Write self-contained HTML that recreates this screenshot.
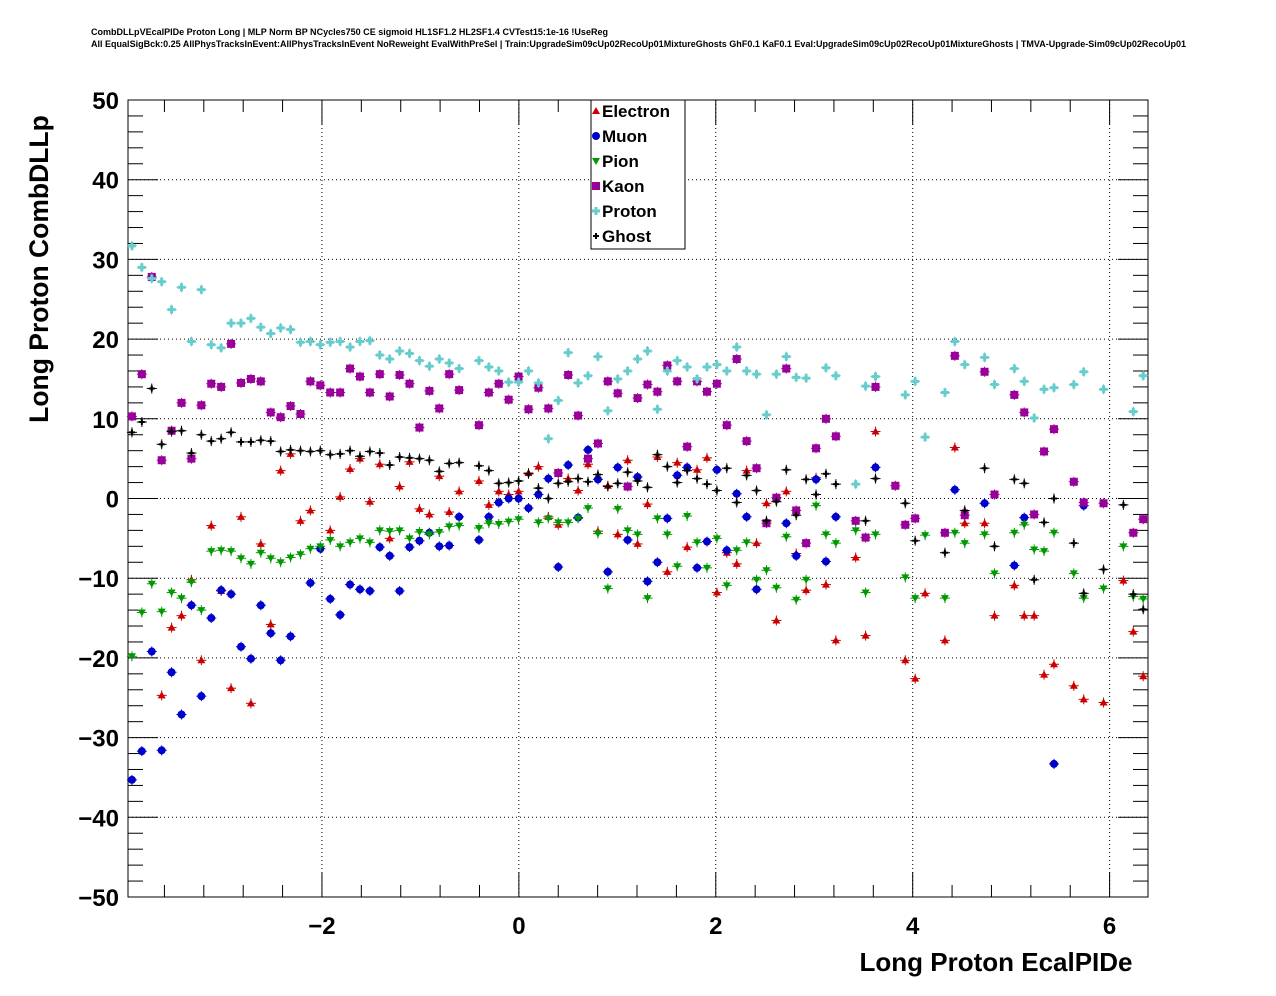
<!DOCTYPE html>
<html><head><meta charset="utf-8">
<style>
body{margin:0;background:#fff;}
svg{display:block;font-family:"Liberation Sans",sans-serif;}
</style></head>
<body>
<svg id="c" width="1276" height="996" viewBox="0 0 1276 996">
<rect width="1276" height="996" fill="#fff"/>
<text x="91" y="35" font-size="8.9" font-weight="bold" textLength="517" lengthAdjust="spacingAndGlyphs">CombDLLpVEcalPIDe Proton Long | MLP Norm BP NCycles750 CE sigmoid HL1SF1.2 HL2SF1.4 CVTest15:1e-16 !UseReg</text>
<text x="91" y="47" font-size="8.9" font-weight="bold" textLength="1095" lengthAdjust="spacingAndGlyphs">All EqualSigBck:0.25 AllPhysTracksInEvent:AllPhysTracksInEvent NoReweight EvalWithPreSel | Train:UpgradeSim09cUp02RecoUp01MixtureGhosts GhF0.1 KaF0.1 Eval:UpgradeSim09cUp02RecoUp01MixtureGhosts | TMVA-Upgrade-Sim09cUp02RecoUp01</text>
<g id="grid"></g><g id="axes"></g><g id="marks"></g>
<text x="996" y="971" font-size="26" font-weight="bold" text-anchor="middle">Long Proton EcalPIDe</text>
<text transform="translate(48,269) rotate(-90)" font-size="26.5" font-weight="bold" text-anchor="middle">Long Proton CombDLLp</text>
<g>
<rect x="591" y="100" width="94" height="149" fill="#fff" stroke="#000" stroke-width="1"/>
<g id="leg"></g>
</g>
</svg>
<script>
const xTicks=[-2,0,2,4,6];
const yTicks=[-50,-40,-30,-20,-10,0,10,20,30,40,50];
const seriesNames=["Electron","Muon","Pion","Kaon","Proton","Ghost"];
const eBins=[3,4,5,6,7,8,9,10,11,12,13,14,15,16,17,18,20,21,22,23,24,25,26,27,28,29,30,31,32,33,35,36,37,38,39,40,41,42,43,44,45,46,47,48,49,50,51,52,53,54,55,56,57,58,59,60,61,62,63,64,65,66,67,68,69,70,71,73,74,75,78,79,80,82,83,84,86,87,89,90,91,92,93,95,96,98,100,101,102];
const eVals=[-24.7,-16.2,-14.7,-10.2,-20.3,-3.4,-11.6,-23.8,-2.3,-25.7,-5.7,-15.8,3.5,5.6,-2.8,-1.5,-4,0.2,3.7,5,-0.4,4.3,-5,1.5,4.6,-1.3,-2,2.8,-1.7,0.9,2.2,-0.8,0.9,0.5,0.9,3.2,4,-2.3,-3.3,2.5,1,4.3,-4.1,1.6,-4.5,4.8,-5.7,-0.7,5.2,-9.2,4.5,-6.1,3.6,5.1,-11.8,-6.8,-8.2,3.5,-5.6,-0.6,-15.3,0.9,-6.9,-11.5,2.6,-10.8,-17.8,-7.4,-17.2,8.4,-20.3,-22.6,-11.9,-17.8,6.4,-3.1,-3.1,-14.7,-10.9,-14.7,-14.7,-22.1,-20.8,-23.5,-25.2,-25.6,-10.3,-16.7,-22.3];
const mBins=[0,1,2,3,4,5,6,7,8,9,10,11,12,13,14,15,16,18,19,20,21,22,23,24,25,26,27,28,29,30,31,32,33,35,36,37,38,39,40,41,42,43,44,45,46,47,48,49,50,51,52,53,54,55,56,57,58,59,60,61,62,63,66,67,69,70,71,75,83,86,89,90,93,96];
const mVals=[-35.3,-31.7,-19.2,-31.6,-21.8,-27.1,-13.4,-24.8,-15,-11.5,-12,-18.6,-20.1,-13.4,-16.9,-20.3,-17.3,-10.6,-6.3,-12.6,-14.6,-10.8,-11.4,-11.6,-6.1,-7.2,-11.6,-6.1,-5.3,-4.3,-6,-5.9,-2.3,-5.2,-2.3,-0.5,0,0,-1.2,0.5,2.5,-8.6,4.2,-2.4,6.1,2.4,-9.2,3.9,-5.2,2.7,-10.4,-8,-2.5,2.9,3.9,-8.7,-5.4,3.6,-6.5,0.6,-2.3,-11.4,-3.1,-7.2,2.4,-7.9,-2.3,3.9,1.1,-0.6,-8.4,-2.4,-33.3,-0.9];
const pBins=[0,1,2,3,4,5,6,7,8,9,10,11,12,13,14,15,16,17,18,19,20,21,22,23,24,25,26,27,28,29,30,31,32,33,35,36,37,38,39,41,42,43,44,45,46,47,48,49,50,51,52,53,54,55,56,57,58,59,60,61,62,63,64,65,66,67,68,69,70,71,73,74,75,78,79,80,82,83,84,86,87,89,90,91,92,93,95,96,98,100,101,102];
const pVals=[-19.8,-14.3,-10.7,-14.2,-11.8,-12.5,-10.5,-14,-6.6,-6.5,-6.6,-7.5,-8.2,-6.8,-7.5,-8,-7.4,-7,-6.3,-6,-5.2,-6,-5.5,-5,-5.5,-4,-4.1,-4,-5,-4.2,-4.5,-4.2,-3.5,-3.4,-3.7,-3.1,-3.2,-2.9,-2.6,-3,-2.5,-3,-3,-2.5,-1.2,-4.4,-11.3,-1.3,-4,-4.5,-12.5,-2.5,-4.5,-8.5,-2.2,-5.5,-8.7,-5,-10.9,-6.5,-5.5,-10.2,-9,-11.2,-4.8,-12.7,-10.2,-0.9,-4.5,-5.6,-4,-11.8,-4.5,-9.9,-12.5,-4.6,-12.5,-4.3,-5.6,-4.5,-9.4,-4.3,-3.3,-6.4,-6.6,-4.3,-9.4,-12.5,-11.3,-6,-12.3,-12.6];
const kBins=[0,1,2,3,4,5,6,7,8,9,10,11,12,13,14,15,16,17,18,19,20,21,22,23,24,25,26,27,28,29,30,31,32,33,35,36,37,38,39,40,41,42,43,44,45,46,47,48,49,50,51,52,53,54,55,56,57,58,59,60,61,62,63,64,65,66,67,68,69,70,71,73,74,75,77,78,79,82,83,84,86,87,89,90,91,92,93,95,96,98,101,102];
const kVals=[10.3,15.6,27.8,4.8,8.5,12,5,11.7,14.4,14,19.4,14.5,15,14.7,10.8,10.2,11.6,10.6,14.7,14.2,13.3,13.3,16.3,15.3,13.3,15.6,12.8,15.5,14.4,8.9,13.5,11.3,15.6,13.6,9.2,13.3,14.4,12.4,15.3,11.2,13.9,11.3,3.2,15.5,10.4,5,6.9,14.7,13.2,1.5,12.6,14.3,13.4,16.7,14.7,6.5,14.7,13.4,14.4,9.2,17.5,7.2,3.8,-3.1,0.1,16.3,-1.5,-5.6,6.3,10,7.8,-2.8,-4.9,14,1.6,-3.3,-2.5,-4.3,17.9,-2.1,15.9,0.5,13,10.8,-2,5.9,8.7,2.1,-0.5,-0.6,-4.3,-2.6];
const prBins=[0,1,2,3,4,5,6,7,8,9,10,11,12,13,14,15,16,17,18,19,20,21,22,23,24,25,26,27,28,29,30,31,32,33,35,36,37,38,39,40,41,42,43,44,45,46,47,48,49,50,51,52,53,54,55,56,57,58,59,60,61,62,63,64,65,66,67,68,70,71,73,74,75,78,79,80,82,83,84,86,87,89,90,91,92,93,95,96,98,101,102];
const prVals=[31.7,29,27.6,27.2,23.7,26.5,19.7,26.2,19.3,18.9,22,22,22.6,21.5,20.7,21.4,21.2,19.6,19.7,19.3,19.6,19.7,19,19.7,19.8,18,17.5,18.5,18.2,17.3,16.6,17.5,17,16.3,17.3,16.5,16,14.6,14.6,16,14.5,7.5,12.3,18.3,14.5,15.4,17.8,11,15,16,17.5,18.5,11.2,16,17.3,16.5,15,16.5,16.8,16,19,16,15.6,10.5,15.6,17.8,15.2,15.1,16.4,15.4,1.8,14.1,15.3,13,14.7,7.7,13.3,19.7,16.8,17.7,14.3,16.3,14.7,10.1,13.7,13.9,14.3,15.9,13.7,10.9,15.4];
const gBins=[0,1,2,3,4,5,6,7,8,9,10,11,12,13,14,15,16,17,18,19,20,21,22,23,24,25,26,27,28,29,30,31,32,33,35,36,37,38,39,40,41,42,43,44,45,46,47,48,49,50,51,52,53,54,55,56,57,58,59,60,61,62,63,64,65,66,67,68,69,70,71,74,75,78,79,82,84,86,87,89,90,91,92,93,95,96,98,100,101,102];
const gVals=[8.3,9.6,13.8,6.8,8.4,8.5,5.7,8,7.2,7.5,8.3,7.1,7.1,7.3,7.2,5.9,6.1,6,5.9,6,5.5,5.6,6,5.3,5.9,5.7,4.2,5.2,5.1,5,4.8,3.4,4.4,4.5,4.1,3.5,1.9,2,2.2,3.1,1.3,0,1.9,2.1,2.5,2.1,3,1.5,1.9,3.3,2.2,1.4,5.5,4,2,3.5,2.5,1.8,1,3.8,-0.5,2.9,1,-2.8,-0.4,3.6,-2.1,2.4,0.5,3.1,1.8,-2.8,2.5,-0.6,-5.3,-6.8,-1.5,3.8,-6,2.4,1.9,-10.2,-3,0,-5.6,-11.9,-8.9,-0.8,-12,-13.9];

const L=128,R=1148,T=100,B=897,XMIN=-3.97,XMAX=6.39,YMIN=-50,YMAX=50;
const sx=v=>L+(v-XMIN)/(XMAX-XMIN)*(R-L);
const sy=v=>B-(v-YMIN)/(YMAX-YMIN)*(B-T);
const binX=i=>-3.93+0.1007*i;
const NS="http://www.w3.org/2000/svg";
function mk(tag,at,parent){const e=document.createElementNS(NS,tag);for(const k in at)e.setAttribute(k,at[k]);parent.appendChild(e);return e;}
const grid=document.getElementById('grid'),axes=document.getElementById('axes'),marks=document.getElementById('marks');
xTicks.forEach(v=>{const l=mk('line',{x1:sx(v),x2:sx(v),y1:T,y2:B,stroke:'#000','stroke-dasharray':'1,3','stroke-width':1},grid);

});
yTicks.forEach(v=>{const l=mk('line',{x1:L,x2:R,y1:sy(v),y2:sy(v),stroke:'#000','stroke-dasharray':'1,3','stroke-width':1},grid);

});
const frame=mk('rect',{x:L,y:T,width:R-L,height:B-T,fill:'none',stroke:'#000','stroke-width':1},axes);


for(let v=-3.6;v<=6.4;v+=0.4){const big=Math.abs(v/2-Math.round(v/2))<0.01;const h=big?25:12;
mk('line',{x1:sx(v),x2:sx(v),y1:B,y2:B-h,stroke:'#000'},axes);mk('line',{x1:sx(v),x2:sx(v),y1:T,y2:T+h,stroke:'#000'},axes);}
for(let v=-50;v<=50;v+=2){const big=v%10===0;const h=big?30:15;
mk('line',{x1:L,x2:L+h,y1:sy(v),y2:sy(v),stroke:'#000'},axes);mk('line',{x1:R,x2:R-h,y1:sy(v),y2:sy(v),stroke:'#000'},axes);}
xTicks.forEach(v=>{const t=mk('text',{x:sx(v),y:934,'font-size':24,'font-weight':'bold','text-anchor':'middle'},axes);t.textContent=v<0?'\u2212'+(-v):String(v);

});
yTicks.forEach(v=>{const t=mk('text',{x:119,y:sy(v)+9,'font-size':24,'font-weight':'bold','text-anchor':'end'},axes);t.textContent=v<0?'\u2212'+(-v):String(v);

});
const colors=['#cc0000','#0000cc','#009900','#990099','#66cccc','#000000'];
function marker(type,x,y,c,g){
 if(type===0)mk('polygon',{points:`${x},${y-4} ${x-4},${y+3} ${x+4},${y+3}`,fill:c},g);
 else if(type===1)mk('circle',{cx:x,cy:y,r:4,fill:c},g);
 else if(type===2)mk('polygon',{points:`${x},${y+4} ${x-4},${y-3} ${x+4},${y-3}`,fill:c},g);
 else if(type===3)mk('rect',{x:x-4,y:y-4,width:8,height:8,fill:c},g);
 else if(type===4){mk('rect',{x:x-4,y:y-1.5,width:8,height:3,fill:c},g);mk('rect',{x:x-1.5,y:y-4,width:3,height:8,fill:c},g);}
 else {mk('rect',{x:x-3,y:y-1,width:6,height:2,fill:c},g);mk('rect',{x:x-1,y:y-3,width:2,height:6,fill:c},g);}
}
const sets=[[eBins,eVals],[mBins,mVals],[pBins,pVals],[kBins,kVals],[prBins,prVals],[gBins,gVals]];
sets.forEach((s,si)=>{const g=mk('g',{},marks);


 s[0].forEach((b,j)=>{const v=s[1][j];const x=sx(binX(b)),y=sy(v);
  mk('line',{x1:x-5,x2:x+5,y1:y,y2:y,stroke:colors[si],'stroke-width':1},g);
  mk('line',{x1:x,x2:x,y1:y-5,y2:y+5,stroke:colors[si],'stroke-width':1},g);
  marker(si,x,y,colors[si],g);});});
const leg=document.getElementById('leg');
seriesNames.forEach((n,i)=>{const y=111+i*25;const g=mk('g',{},leg);


marker(i,596,y,colors[i],g);const t=mk('text',{x:602,y:y+6,'font-size':17,'font-weight':'bold'},g);t.textContent=n;});
</script>
</body></html>
